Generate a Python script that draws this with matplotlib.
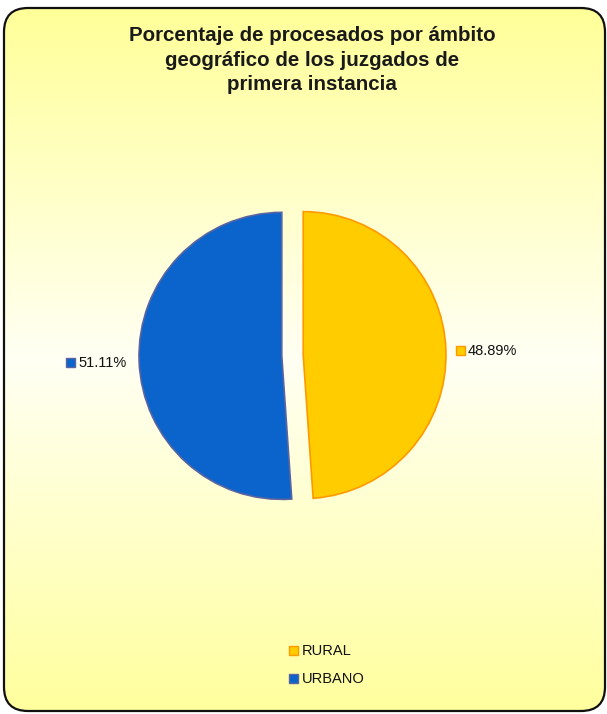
import numpy as np
import matplotlib.pyplot as plt
from matplotlib.patches import FancyBboxPatch, Rectangle
from matplotlib.colors import LinearSegmentedColormap

plt.rcParams['font.family'] = ['Liberation Sans', 'DejaVu Sans']

categories = ["RURAL", "URBANO"]
values = [48.89, 51.11]
colors = ["#FFCC00", "#0A64CC"]
edges = ["#FF9900", "#5A64A0"]
title = "Porcentaje de procesados por ámbito\ngeográfico de los juzgados de\nprimera instancia"

fig_dpi = 100
fig_w_px = 607
fig_h_px = 714
fig = plt.figure(dpi=fig_dpi, figsize=(fig_w_px / fig_dpi, fig_h_px / fig_dpi))
fig.patch.set_facecolor("white")

# background: vertical yellow-white-yellow gradient in a rounded box
bg = fig.add_axes([0, 0, 1, 1])
bg.set_xlim(0, fig_w_px)
bg.set_ylim(fig_h_px, 0)
bg.axis("off")
cmap = LinearSegmentedColormap.from_list("bg", ["#FFFF99", "#FFFFF4", "#FFFF9E"])
grad = np.linspace(0, 1, 256).reshape(-1, 1)
box = FancyBboxPatch((4, 8), 601, 703, boxstyle="round,pad=0,rounding_size=24",
                     facecolor="none", edgecolor="#111111", linewidth=1.6, zorder=3)
bg.add_patch(box)
img = bg.imshow(grad, cmap=cmap, aspect="auto", extent=[4, 605, 711, 8], zorder=1)
img.set_clip_path(box)

# pie
ax = fig.add_axes([139 / fig_w_px, 1 - 499 / fig_h_px, 307 / fig_w_px, 287 / fig_h_px])
ax.set_facecolor("none")
wedges, _ = ax.pie(values, colors=colors, startangle=90, counterclock=False,
                   explode=[0.075, 0.075], radius=1.0,
                   wedgeprops=dict(linewidth=1.2))
for w, ec in zip(wedges, edges):
    w.set_edgecolor(ec)
ax.set_aspect("auto")
ax.set_xlim(-1.075, 1.075)
ax.set_ylim(-1.0, 1.0)

bg.text(312, 60, title, ha="center", va="center", fontsize=14.8,
        fontweight="bold", color="#1a1a1a", linespacing=1.34, zorder=4)

# data labels
label_pos = [(456, 351), (66, 363)]
for (x, y), v, c, ec in zip(label_pos, values, colors, edges):
    bg.add_patch(Rectangle((x, y - 5), 9, 9, facecolor=c, edgecolor=ec, lw=1, zorder=4))
    bg.text(x + 12, y, "{:.2f}%".format(v), ha="left", va="center", fontsize=10.5,
            color="#111111", zorder=4)

# legend
leg_pos = [(289, 651), (289, 679)]
for (x, y), cat, c, ec in zip(leg_pos, categories, colors, edges):
    bg.add_patch(Rectangle((x, y - 5), 9, 9, facecolor=c, edgecolor=ec, lw=1, zorder=4))
    bg.text(x + 13, y, cat, ha="left", va="center", fontsize=10.5,
            color="#111111", zorder=4)

fig.savefig("out.png", dpi=fig_dpi)
